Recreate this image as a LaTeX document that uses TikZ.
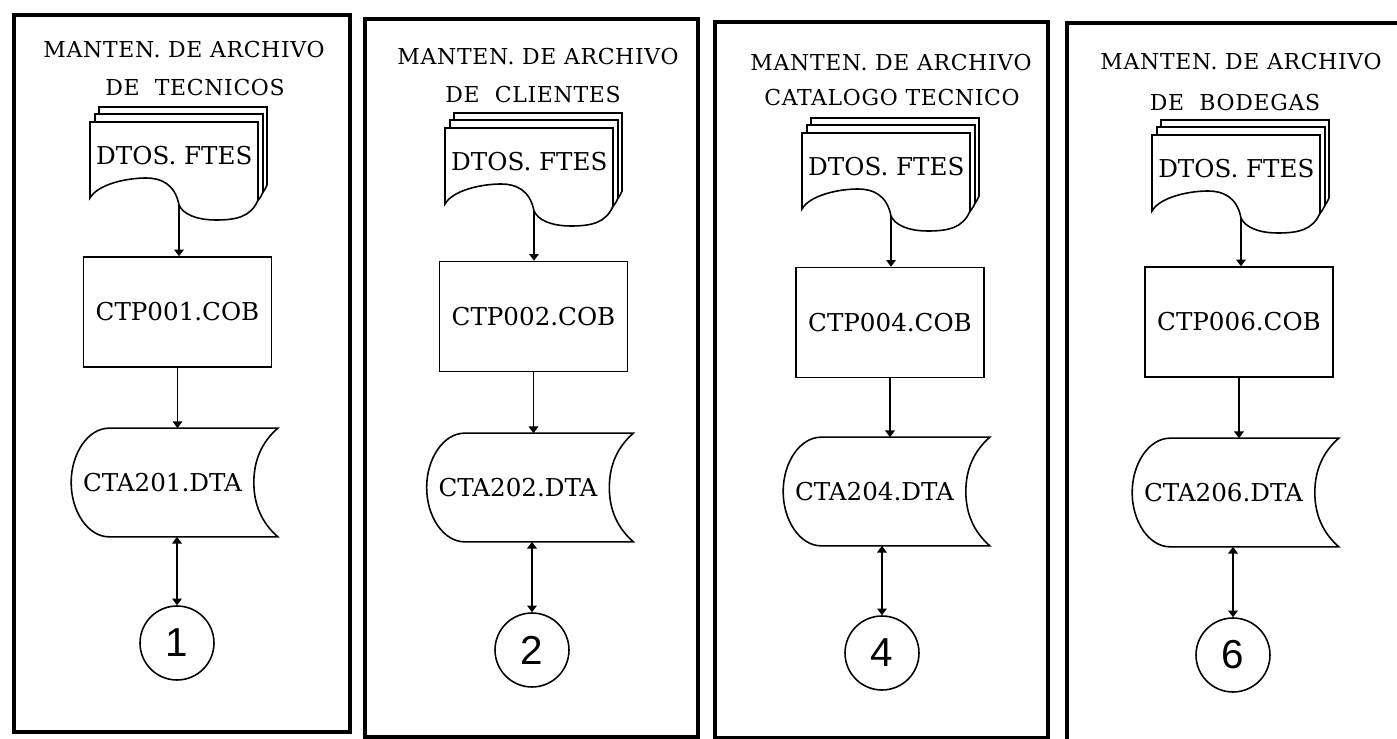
\documentclass[tikz,border=0pt]{standalone}
\usepackage{fontspec}
\usetikzlibrary{calc,arrows.meta}
\newfontfamily\titlefont[LetterSpace=3]{DejaVu Serif}
\newfontfamily\labelfont{DejaVu Serif}
\newfontfamily\digitfont{Liberation Sans}
\def\sheet(#1,#2){\draw[shape line, fill=white] (#1,#2+76) -- (#1,#2) -- (#1+168,#2) -- (#1+168,#2+78) .. controls (#1+161,#2+95) and (#1+146,#2+98) .. (#1+126,#2+98) .. controls (#1+106,#2+98) and (#1+93,#2+92) .. (#1+89,#2+83) .. controls (#1+85,#2+62) and (#1+71,#2+56) .. (#1+56,#2+56) .. controls (#1+37,#2+56) and (#1+8,#2+62) .. (#1,#2+76) -- cycle;}
\def\docstack(#1,#2){\sheet(#1+9,#2-15) \sheet(#1+5,#2-8) \sheet(#1,#2)}
\def\storeline#1{\draw[shape line] ($(#1.north west)+(38,0)$) -- ($(#1.north east)+(24,0)$) .. controls ($(#1.north east)+(8,14)$) and ($(#1.north east)+(0,32)$) .. (#1.east) .. controls ($(#1.south east)+(0,-32)$) and ($(#1.south east)+(8,-14)$) .. ($(#1.south east)+(24,0)$) -- ($(#1.south west)+(38,0)$) .. controls ($(#1.south west)+(17,0)$) and ($(#1.south west)+(0,-25)$) .. (#1.west) .. controls ($(#1.north west)+(0,25)$) and ($(#1.north west)+(17,0)$) .. cycle;}
\tikzset{
	shape line/.style={line width=0.9pt},
	frame/.style={line width=2pt},
	title/.style={inner sep=0pt, font=\titlefont\fontsize{12.5}{14}\selectfont},
	doc/.style={inner sep=0pt, minimum width=3.36cm, minimum height=1.32cm, font=\labelfont\fontsize{14}{16}\selectfont},
	prog/.style={draw, shape line, inner sep=0pt, minimum width=3.76cm, minimum height=2.2cm, font=\labelfont\fontsize{14}{16}\selectfont},
	store/.style={inner sep=0pt, minimum width=3.64cm, minimum height=2.16cm, font=\labelfont\fontsize{14}{16}\selectfont},
	conn/.style={draw, circle, shape line, inner sep=0pt, minimum size=1.48cm, font=\digitfont\fontsize{23}{23}\selectfont},
	flow/.style={line width=0.7pt, -{Triangle[width=5.5pt,length=3.8pt]}},
	flowboth/.style={line width=0.7pt, {Triangle[width=5.5pt,length=3.8pt]}-{Triangle[width=5.5pt,length=3.8pt]}}
}

\begin{document}
\begin{tikzpicture}[x=0.02cm, y=-0.02cm]
			%%%%% START %%%%%
			\useasboundingbox (0,0) rectangle (1397,739);
			\clip (0,0) rectangle (1397,739);
			
			\draw[frame] (14,15) rectangle (350,732);
			\draw[frame] (365,19) rectangle (698,737);
			\draw[frame] (715,22) rectangle (1048,738);
			\draw[frame] (1067,23) rectangle (1420,760);
			
			% tecnicos
			\node[title] (t1a) at (184,50) {MANTEN. DE ARCHIVO};
			\node[title] (t1b) at (195,88) {DE\ \ TECNICOS};
			\docstack(90,122)
			\node[doc, anchor=north west] (d1) at (90,122) {DTOS. FTES};
			\coordinate (d1w) at ($(d1.north west)+(89,83)$);
			\node[prog] (p1) at (177.5,312) {CTP001.COB};
			\node[store] (s1) at (162.5,482.5) {CTA201.DTA};
			\storeline{s1}
			\node[conn] (c1) at (177,643) {1};
			\draw[flow] (d1w) -- (d1w |- p1.north);
			\draw[flow] (p1.south) -- (p1.south |- s1.north);
			\draw[flowboth] (c1.north |- s1.south) -- (c1.north);
			
			% clientes
			\node[title] (t2a) at (538,57) {MANTEN. DE ARCHIVO};
			\node[title] (t2b) at (533,95) {DE\ \ CLIENTES};
			\docstack(445,128)
			\node[doc, anchor=north west] (d2) at (445,128) {DTOS. FTES};
			\coordinate (d2w) at ($(d2.north west)+(89,83)$);
			\node[prog] (p2) at (533.5,316.5) {CTP002.COB};
			\node[store] (s2) at (518,487.5) {CTA202.DTA};
			\storeline{s2}
			\node[conn] (c2) at (532,650) {2};
			\draw[flow] (d2w) -- (d2w |- p2.north);
			\draw[flow] (p2.south) -- (p2.south |- s2.north);
			\draw[flowboth] (c2.north |- s2.south) -- (c2.north);
			
			% catalogo
			\node[title] (t3a) at (891,63) {MANTEN. DE ARCHIVO};
			\node[title] (t3b) at (892,98) {CATALOGO TECNICO};
			\docstack(802,133)
			\node[doc, anchor=north west] (d3) at (802,133) {DTOS. FTES};
			\coordinate (d3w) at ($(d3.north west)+(89,83)$);
			\node[prog] (p3) at (890,322.5) {CTP004.COB};
			\node[store] (s3) at (874.5,491.5) {CTA204.DTA};
			\storeline{s3}
			\node[conn] (c3) at (882,653) {4};
			\draw[flow] (d3w) -- (d3w |- p3.north);
			\draw[flow] (p3.south) -- (p3.south |- s3.north);
			\draw[flowboth] (c3.north |- s3.south) -- (c3.north);
			
			% bodegas
			\node[title] (t4a) at (1241,62) {MANTEN. DE ARCHIVO};
			\node[title] (t4b) at (1235,103) {DE\ \ BODEGAS};
			\docstack(1152,135)
			\node[doc, anchor=north west] (d4) at (1152,135) {DTOS. FTES};
			\coordinate (d4w) at ($(d4.north west)+(89,83)$);
			\node[prog] (p4) at (1239,322) {CTP006.COB};
			\node[store] (s4) at (1223.5,492.5) {CTA206.DTA};
			\storeline{s4}
			\node[conn] (c4) at (1233,655) {6};
			\draw[flow] (d4w) -- (d4w |- p4.north);
			\draw[flow] (p4.south) -- (p4.south |- s4.north);
			\draw[flowboth] (c4.north |- s4.south) -- (c4.north);
			
			%%%%% END %%%%%
		\end{tikzpicture}
\end{document}
